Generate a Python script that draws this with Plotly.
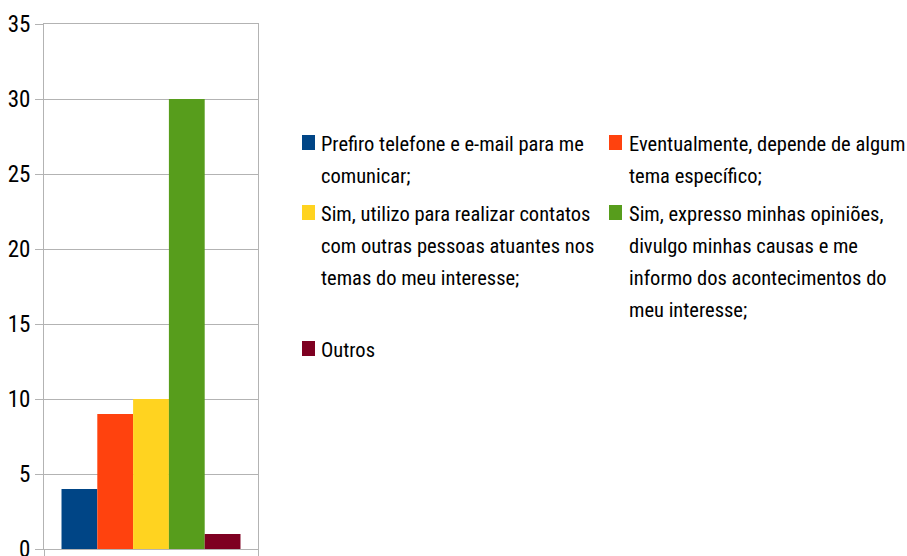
import plotly.graph_objects as go

# ---- data ----
series_names = [
    "Prefiro telefone e e-mail para me comunicar;",
    "Eventualmente, depende de algum tema específico;",
    "Sim, utilizo para realizar contatos com outras pessoas atuantes nos temas do meu interesse;",
    "Sim, expresso minhas opiniões, divulgo minhas causas e me informo dos acontecimentos do meu interesse;",
    "Outros",
]
series_values = [4, 9, 10, 30, 1]
series_colors = ["#004586", "#ff420e", "#ffd320", "#579d1c", "#7e0021"]
legend_lines = [
    ["Prefiro telefone e e-mail para me", "comunicar;"],
    ["Eventualmente, depende de algum", "tema específico;"],
    ["Sim, utilizo para realizar contatos", "com outras pessoas atuantes nos", "temas do meu interesse;"],
    ["Sim, expresso minhas opiniões,", "divulgo minhas causas e me", "informo dos acontecimentos do", "meu interesse;"],
    ["Outros"],
]
y_ticks = [0, 5, 10, 15, 20, 25, 30, 35]

W, H = 907, 556
ML, MR, MT, MB = 44, W - 258, 24, H - 549
PW, PH = W - ML - MR, H - MT - MB
FONT = "Roboto Condensed, Liberation Sans Narrow, Arial Narrow, sans-serif"
GRID = "#b3b3b3"


def px_x(p):
    return (p - ML) / PW


def px_y(p):
    return (H - MB - p) / PH


fig = go.Figure()
for name, val, col in zip(series_names, series_values, series_colors):
    fig.add_trace(go.Bar(x=[0], y=[val], name=name, marker=dict(color=col, line=dict(width=0)),
                         showlegend=False))

# legend built manually (two columns, wrapped text, symbol aligned with first line)
col_sq_x = [302, 609]
col_txt_x = [319, 627]
row_first_baseline = [151, 221, 357]
line_step = 32
annotations = []
shapes = []
for i, (lines, col) in enumerate(zip(legend_lines, series_colors)):
    c = i % 2
    r = i // 2
    b0 = row_first_baseline[r]
    shapes.append(dict(type="rect", xref="paper", yref="paper",
                       x0=px_x(col_sq_x[c]), x1=px_x(col_sq_x[c] + 13),
                       y0=px_y(b0 - 16), y1=px_y(b0 - 1),
                       fillcolor=col, line=dict(width=0)))
    for k, t in enumerate(lines):
        bl = b0 + k * line_step
        annotations.append(dict(text=t, xref="paper", yref="paper",
                                x=px_x(col_txt_x[c]), y=px_y(bl - 7),
                                xanchor="left", yanchor="middle", showarrow=False,
                                font=dict(family=FONT, size=20.5, color="#000000")))

fig.update_layout(
    width=W, height=H,
    margin=dict(l=ML, r=MR, t=MT, b=MB, pad=0, autoexpand=False),
    paper_bgcolor="white", plot_bgcolor="white",
    barmode="group", bargap=0.1636, bargroupgap=0,
    font=dict(family=FONT, size=23, color="#000000"),
    annotations=annotations, shapes=shapes,
    xaxis=dict(range=[-0.5, 0.5], tickmode="array", tickvals=[-0.5, 0.5], ticktext=["", ""],
               showticklabels=False, ticks="outside", ticklen=7, tickcolor=GRID, tickwidth=1,
               showgrid=False, zeroline=False, showline=True, mirror=True,
               linecolor=GRID, linewidth=1, fixedrange=True, automargin=False),
    yaxis=dict(range=[0, 35], tickmode="array", tickvals=y_ticks, ticktext=[str(v) for v in y_ticks],
               ticks="outside", ticklen=8, tickcolor=GRID, tickwidth=1,
               showgrid=True, gridcolor=GRID, gridwidth=1, zeroline=False,
               showline=True, mirror=True, linecolor=GRID, linewidth=1,
               tickfont=dict(family=FONT, size=23, color="#000000"), fixedrange=True,
               automargin=False, ticklabeloverflow="allow"),
    showlegend=False,
)

fig.write_html("out.html", config={"displayModeBar": False},
               post_script="document.body.style.margin='0';")
